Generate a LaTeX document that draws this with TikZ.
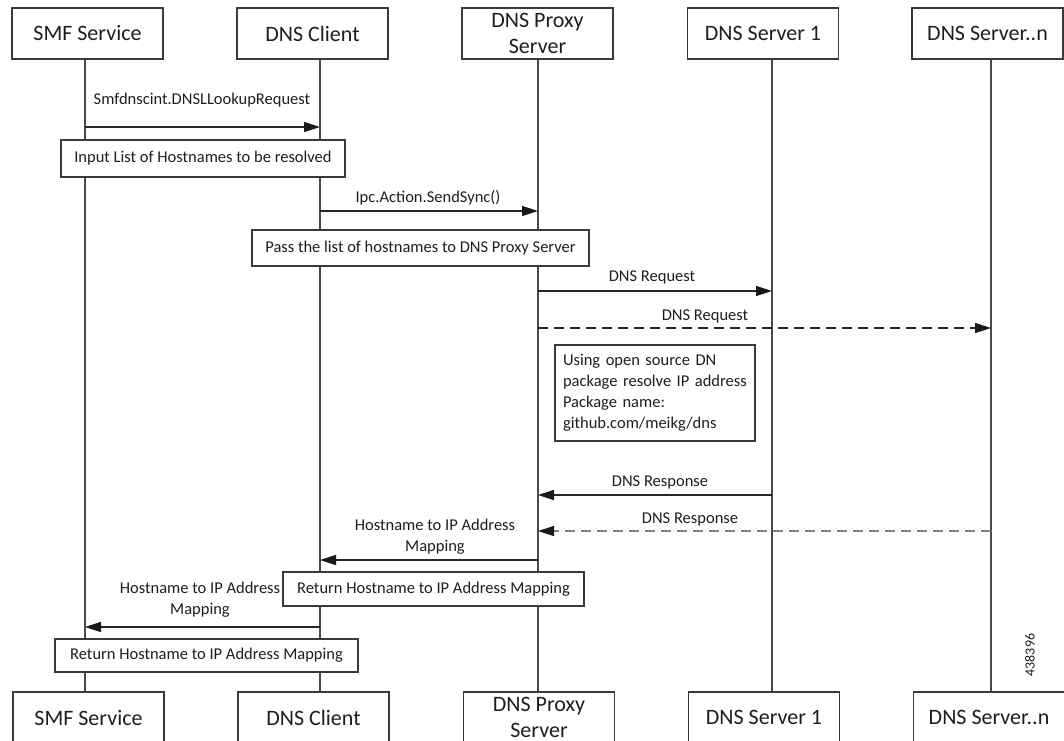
\documentclass[tikz,border=0pt]{standalone}
\usepackage{fontspec}
\setmainfont{Carlito}
\usetikzlibrary{arrows.meta}
\definecolor{boxc}{HTML}{3A3A3A}
\definecolor{lifec}{HTML}{4A4A4A}
\definecolor{txt}{HTML}{1E1E1E}
\definecolor{dgray}{HTML}{808080}
\begin{document}
\begin{tikzpicture}[x=1pt,y=-1pt,
  head/.style={draw=boxc, line width=1.4pt, fill=white, minimum width=151pt, minimum height=51pt, inner sep=0pt, font=\fontsize{22}{26}\selectfont, align=center, text=txt},
  notebox/.style={draw=boxc, line width=1.3pt, fill=white, inner sep=0pt, font=\fontsize{16.5}{21}\selectfont, text=txt},
  life/.style={draw=lifec, line width=1.4pt},
  msg/.style={line width=1.4pt, draw=black!85, -{Triangle[length=16pt,width=10pt,color=black!90]}},
  dmsg/.style={msg, dash pattern=on 10pt off 6pt},
  lbl/.style={font=\fontsize{16.5}{21}\selectfont, text=txt, inner sep=0pt, align=center}]
\useasboundingbox (0,0) rectangle (1064,740);
\clip (0,0) rectangle (1064,740);
\fill[white] (0,0) rectangle (1064,740);

% lifeline x positions
\coordinate (Lsmf) at (85,0);
\coordinate (Lcli) at (320,0);
\coordinate (Lpx) at (538,0);
\coordinate (Ls1) at (772,0);
\coordinate (Lsn) at (991,0);

% heads (top)
\node[head] (smfT) at (87.5,33.5) {SMF Service};
\node[head] (cliT) at (312.5,33.5) {DNS Client};
\node[head] (pxT) at (537.5,33.5) {DNS Proxy\\Server};
\node[head] (s1T) at (763,33.5) {DNS Server 1};
\node[head] (snT) at (987.5,33.5) {DNS Server..n};
% heads (bottom)
\node[head] (smfB) at (88.5,717.5) {SMF Service};
\node[head] (cliB) at (313.5,717.5) {DNS Client};
\node[head] (pxB) at (539,717.5) {DNS Proxy\\Server};
\node[head] (s1B) at (764,717.5) {DNS Server 1};
\node[head] (snB) at (989,717.5) {DNS Server..n};

% lifelines
\draw[life] (smfT.south -| Lsmf) -- (smfB.north -| Lsmf);
\draw[life] (cliT.south -| Lcli) -- (cliB.north -| Lcli);
\draw[life] (pxT.south -| Lpx) -- (pxB.north -| Lpx);
\draw[life] (s1T.south -| Ls1) -- (s1B.north -| Ls1);
\draw[life] (snT.south -| Lsn) -- (snB.north -| Lsn);

% notes
\node[notebox, minimum width=284pt, minimum height=37pt] (n1) at (203,158.5) {Input List of Hostnames to be resolved};
\node[notebox, minimum width=337pt, minimum height=36pt] (n2) at (420.5,248) {Pass the list of hostnames to DNS Proxy Server};
\node[notebox, minimum width=200pt, minimum height=96pt, text width=184pt, align=left] (n3) at (655,393) {Using open source DN\\package resolve IP address\\Package name:\\github.com/meikg/dns};
\node[notebox, minimum width=301pt, minimum height=34pt] (n4) at (433.5,589) {Return Hostname to IP Address Mapping};
\node[notebox, minimum width=303pt, minimum height=33pt] (n5) at (206.5,655.5) {Return Hostname to IP Address Mapping};

% message end points
\coordinate (m1a) at (85,127);  \coordinate (m1b) at (320,127);
\coordinate (m2a) at (320,211); \coordinate (m2b) at (538,211);
\coordinate (m3a) at (538,291); \coordinate (m3b) at (772,291);
\coordinate (m4a) at (538,328); \coordinate (m4b) at (991,328);
\coordinate (m5a) at (772,495); \coordinate (m5b) at (538,495);
\coordinate (m6a) at (991,531); \coordinate (m6b) at (538,531);
\coordinate (m7a) at (538,560); \coordinate (m7b) at (320,560);
\coordinate (m8a) at (320,627); \coordinate (m8b) at (85,627);

\draw[msg] (m1a) -- (m1b);
\draw[msg] (m2a) -- (m2b);
\draw[msg] (m3a) -- (m3b);
\draw[dmsg] (m4a) -- (m4b);
\draw[msg] (m5a) -- (m5b);
\draw[dmsg, draw=dgray] (m6a) -- (m6b);
\draw[msg] (m7a) -- (m7b);
\draw[msg] (m8a) -- (m8b);

% labels
\node[lbl] (l1) at (202,100) {Smfdnscint.DNSLLookupRequest};
\node[lbl] (l2) at (428,198) {Ipc.Action.SendSync()};
\node[lbl] (l3) at (652,277) {DNS Request};
\node[lbl] (l4) at (705,316) {DNS Request};
\node[lbl] (l5) at (660,482) {DNS Response};
\node[lbl] (l6) at (690,519) {DNS Response};
\node[lbl] (l7) at (435,536.5) {Hostname to IP Address\\Mapping};
\node[lbl] (l8) at (200,600) {Hostname to IP Address\\Mapping};

\node[rotate=90, font=\fontsize{14}{14}\selectfont, text=txt, inner sep=0pt] (num) at (1030,655) {438396};
\end{tikzpicture}
\end{document}
